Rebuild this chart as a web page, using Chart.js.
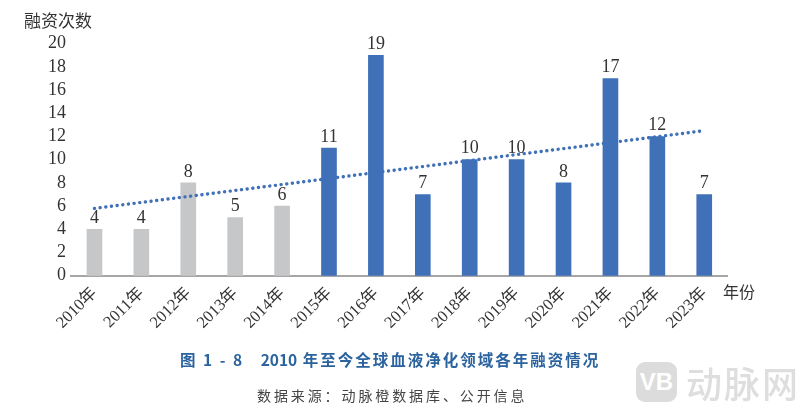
<!DOCTYPE html>
<html>
<head>
<meta charset="utf-8">
<script src="https://cdn.jsdelivr.net/npm/chart.js@4/dist/chart.umd.min.js"></script>
<style>
  html, body { margin: 0; padding: 0; background: #fff; }
  #wrap { position: relative; width: 808px; height: 412px; overflow: hidden; }
  #wrap canvas { position: absolute; left: 0; top: 0; }
  .txt { position: absolute; white-space: nowrap; line-height: 1; font-family: "Liberation Serif", "Noto Sans CJK SC", serif; color: #333; }
  #yTitle { left: 24px; top: 13px; font-size: 17px; }
  #xTitle { left: 723px; top: 285px; font-size: 16px; }
  #title { left: 180px; top: 352px; font-size: 15.5px; font-weight: 700; letter-spacing: 2px; color: #2b639f; font-family: "Noto Sans CJK SC", sans-serif; }
  #title span { letter-spacing: 0; }
  #source { left: 257px; top: 388px; font-size: 14px; letter-spacing: 2.9px; color: #444; font-family: "Noto Sans CJK SC", sans-serif; }
  #logo { position: absolute; left: 636px; top: 362px; width: 41px; height: 40px; border-radius: 9px; background: #dcdcdc; color: #fff; font: 700 24px "Liberation Sans", sans-serif; text-align: center; line-height: 40px; }
  #mark { left: 686px; top: 364px; font-size: 36px; font-weight: 500; color: #dedede; font-family: "Noto Sans CJK SC", sans-serif; letter-spacing: 2px; }
</style>
</head>
<body>
<div id="wrap">
  <canvas id="chart" width="808" height="412"></canvas>
  <div class="txt" id="yTitle">融资次数</div>
  <div class="txt" id="xTitle">年份</div>
  <div class="txt" id="title">图 1 - 8&nbsp;&nbsp; <span>2010</span> 年至今全球血液净化领域各年融资情况</div>
  <div class="txt" id="source">数据来源：动脉橙数据库、公开信息</div>
  <div id="logo">VB</div>
  <div class="txt" id="mark">动脉网</div>
</div>
<script>
const years = ["2010年", "2011年", "2012年", "2013年", "2014年", "2015年", "2016年",
  "2017年", "2018年", "2019年", "2020年", "2021年", "2022年", "2023年"];
const rounds = [4, 4, 8, 5, 6, 11, 19, 7, 10, 10, 8, 17, 12, 7];
const trend = [5.8, null, null, null, null, null, null, null, null, null, null, null, null, 12.5];
const yTicks = [0, 2, 4, 6, 8, 10, 12, 14, 16, 18, 20];

const GREY = "#c6c7c9";
const BLUE = "#3f70b8";
const serif = '"Liberation Serif", "Noto Sans CJK SC", serif';

// value labels above the bars
const barLabels = {
  id: "barLabels",
  afterDatasetsDraw(chart) {
    const { ctx } = chart;
    const meta = chart.getDatasetMeta(0);
    ctx.save();
    ctx.font = "18px " + serif;
    ctx.fillStyle = "#333";
    ctx.textAlign = "center";
    ctx.textBaseline = "bottom";
    meta.data.forEach((bar, i) => {
      ctx.fillText(rounds[i], bar.x, bar.y - 2);
    });
    ctx.restore();
  },
};

new Chart(document.getElementById("chart"), {
  data: {
    labels: years,
    datasets: [
      {
        type: "bar",
        data: rounds,
        order: 2,
        barThickness: 15,
        backgroundColor: rounds.map((_, i) => (i < 5 ? GREY : BLUE)),
      },
      {
        type: "line",
        data: trend,
        order: 1,
        spanGaps: true,
        borderColor: BLUE,
        borderWidth: 3.4,
        borderDash: [0.1, 5.6],
        borderCapStyle: "round",
        pointRadius: 0,
        fill: false,
      },
    ],
  },
  options: {
    responsive: false,
    animation: false,
    layout: { padding: { left: 0, right: 80.3, top: 43.7, bottom: 0 } },
    plugins: { legend: { display: false }, tooltip: { enabled: false } },
    scales: {
      x: {
        offset: true,
        grid: { display: false, drawTicks: false },
        border: { color: "#a6a6a6", width: 2 },
        afterFit(axis) { axis.height = 136.3; },
        ticks: {
          minRotation: 45,
          maxRotation: 45,
          autoSkip: false,
          padding: 8,
          color: "#333",
          font: { family: serif, size: 16.5 },
        },
      },
      y: {
        min: 0,
        max: 20,
        grid: { display: false, drawTicks: false },
        border: { display: false },
        afterFit(axis) { axis.width = 71; },
        afterBuildTicks(axis) { axis.ticks = yTicks.map((v) => ({ value: v })); },
        ticks: {
          autoSkip: false,
          padding: 5,
          color: "#333",
          font: { family: serif, size: 18 },
        },
      },
    },
  },
  plugins: [barLabels],
});
</script>
</body>
</html>
